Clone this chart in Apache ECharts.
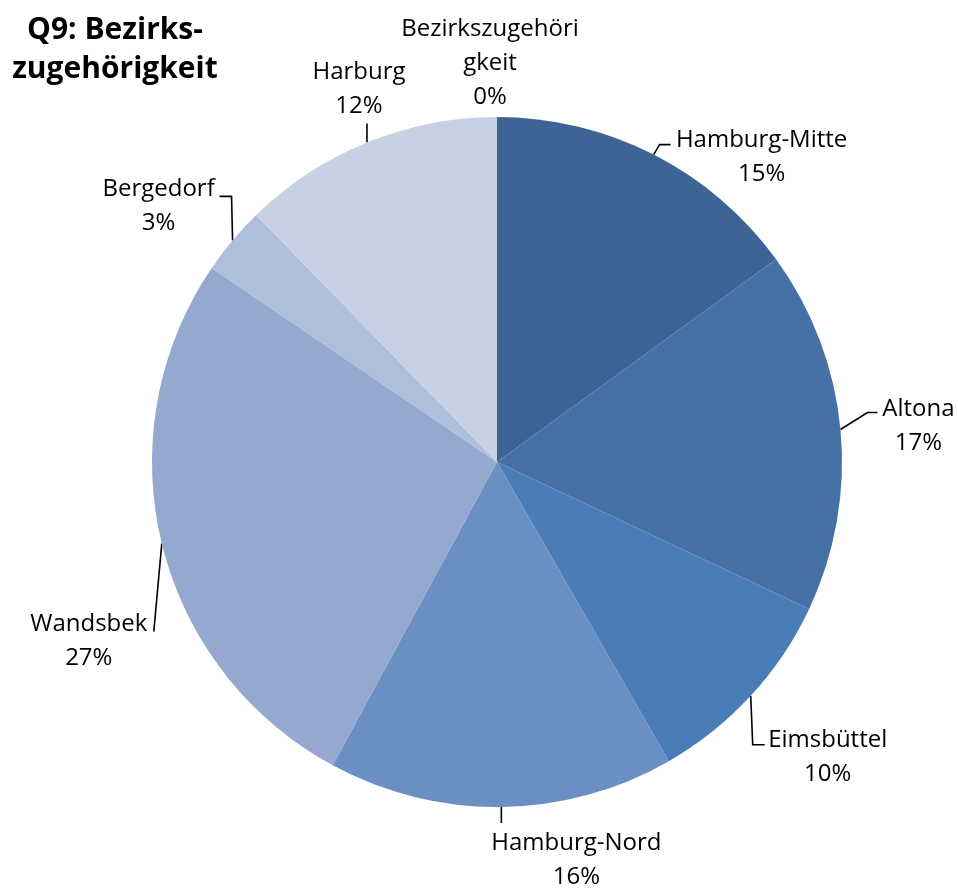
<!DOCTYPE html>
<html>
<head>
<meta charset="utf-8">
<script src="https://cdn.jsdelivr.net/npm/echarts@6/dist/echarts.min.js"></script>
<style>
  html, body { margin: 0; padding: 0; background: #ffffff; }
  #chart { width: 958px; height: 889px; }
</style>
</head>
<body>
<div id="chart"></div>
<script>
// District shares of respondents (percent), clockwise from 12 o'clock
const districts = ['Hamburg-Mitte', 'Altona', 'Eimsbüttel', 'Hamburg-Nord', 'Wandsbek', 'Bergedorf', 'Harburg', 'Bezirkszugehörigkeit'];
const shares = [15.0, 17.0, 9.7, 16.2, 26.6, 3.2, 12.3, 0];
const sliceColors = ['#3e6496', '#4571a6', '#4a7db8', '#6a8fc3', '#95a8cf', '#afbfdb', '#c8d0e3', '#c8d0e3'];

const labelFont = '"Open Sans", sans-serif';
const pieCenter = [497, 462];
const pieRadius = 345;

// Callout placement, relative to the point where each slice's bisector meets the rim:
// text block centre offset, plus the leader line's bend and end points.
const calloutLayout = [
  { text: [108, 3],   line: [[6, -10], [17, -10]] },
  { text: [78, -3],   line: [[27, -17], [37, -17]] },
  { text: [77, 61],   line: [[2, 49], [14, 49]] },
  { text: [75, 53],   line: [[0, 16], [0, 16]] },
  { text: [-73, 98],  line: [[-8, 88], [-8, 88]] },
  { text: [-74, -34], line: [[-1, -44], [-13, -44]] },
  { text: [-8, -53],  line: [[0, -19], [0, -19]] },
  { text: [-7, -54],  line: null }
];

// Rim point on each slice's bisector
const total = shares.reduce((a, b) => a + b, 0);
const rimPoints = [];
let acc = 0;
shares.forEach(v => {
  const mid = (acc + v / 2) / total * 2 * Math.PI;
  rimPoints.push([pieCenter[0] + pieRadius * Math.sin(mid), pieCenter[1] - pieRadius * Math.cos(mid)]);
  acc += v;
});

const chart = echarts.init(document.getElementById('chart'), null, { renderer: 'canvas' });

chart.setOption({
  animation: false,
  title: {
    text: 'Q9: Bezirks-\nzugehörigkeit',
    left: 110,
    top: 6,
    textAlign: 'center',
    textStyle: { fontFamily: labelFont, fontWeight: 'bold', fontSize: 30, lineHeight: 39, color: '#000' }
  },
  series: [{
    type: 'pie',
    center: pieCenter,
    radius: pieRadius,
    startAngle: 90,
    clockwise: true,
    avoidLabelOverlap: false,
    minShowLabelAngle: 0,
    data: districts.map((name, i) => ({
      name,
      value: shares[i],
      itemStyle: { color: sliceColors[i] },
      labelLine: { show: !!calloutLayout[i].line }
    })),
    itemStyle: { borderWidth: 0 },
    label: {
      show: true,
      position: 'outside',
      formatter: p => p.name.replace('Bezirkszugehöri', 'Bezirkszugehöri\n') + '\n' + Math.round(p.percent) + '%',
      fontFamily: labelFont,
      fontSize: 24,
      lineHeight: 34,
      color: '#000',
      align: 'center'
    },
    labelLine: { show: true, length: 12, length2: 10, lineStyle: { color: '#000', width: 1.6 } },
    labelLayout: params => {
      const i = params.dataIndex;
      const rim = rimPoints[i];
      const cfg = calloutLayout[i];
      const out = {
        x: rim[0] + cfg.text[0],
        y: rim[1] + cfg.text[1],
        align: 'center',
        verticalAlign: 'middle',
        hideOverlap: false,
        moveOverlap: null
      };
      if (cfg.line) {
        out.labelLinePoints = [rim, ...cfg.line.map(p => [rim[0] + p[0], rim[1] + p[1]])];
      }
      return out;
    },
    emphasis: { disabled: true }
  }]
});
</script>
</body>
</html>
